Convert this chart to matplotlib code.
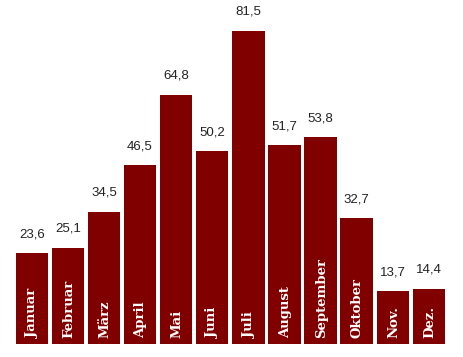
import matplotlib
matplotlib.use("Agg")
import matplotlib.pyplot as plt

months = ["Januar", "Februar", "März", "April", "Mai", "Juni", "Juli",
          "August", "September", "Oktober", "Nov.", "Dez."]
values = [23.6, 25.1, 34.5, 46.5, 64.8, 50.2, 81.5, 51.7, 53.8, 32.7, 13.7, 14.4]

W, H = 464, 357
fig = plt.figure(figsize=(W / 100, H / 100), dpi=100)
ax = fig.add_axes([13.7 / W, 13 / H, 433.2 / W, 341.8 / H])
ax.set_xlim(-0.5, len(months) - 0.5)
ax.set_ylim(0, 89)
ax.axis("off")

x = range(len(months))
bars = ax.bar(x, values, width=0.9, color="#800000", linewidth=0)

for xi, v, m in zip(x, values, months):
    ax.annotate(f"{v:.1f}".replace(".", ","), (xi, v), xytext=(0, 9.5),
                textcoords="offset points", ha="center", va="bottom",
                fontsize=9.5, color="#222222", family="Liberation Sans")
    ax.annotate(m, (xi, 0), xytext=(0.5, 4.5), textcoords="offset points",
                rotation=90, ha="center", va="bottom", fontsize=9.5,
                color="white", fontweight="heavy", family="DejaVu Serif")

fig.savefig("out.png", dpi=100, facecolor="white")
